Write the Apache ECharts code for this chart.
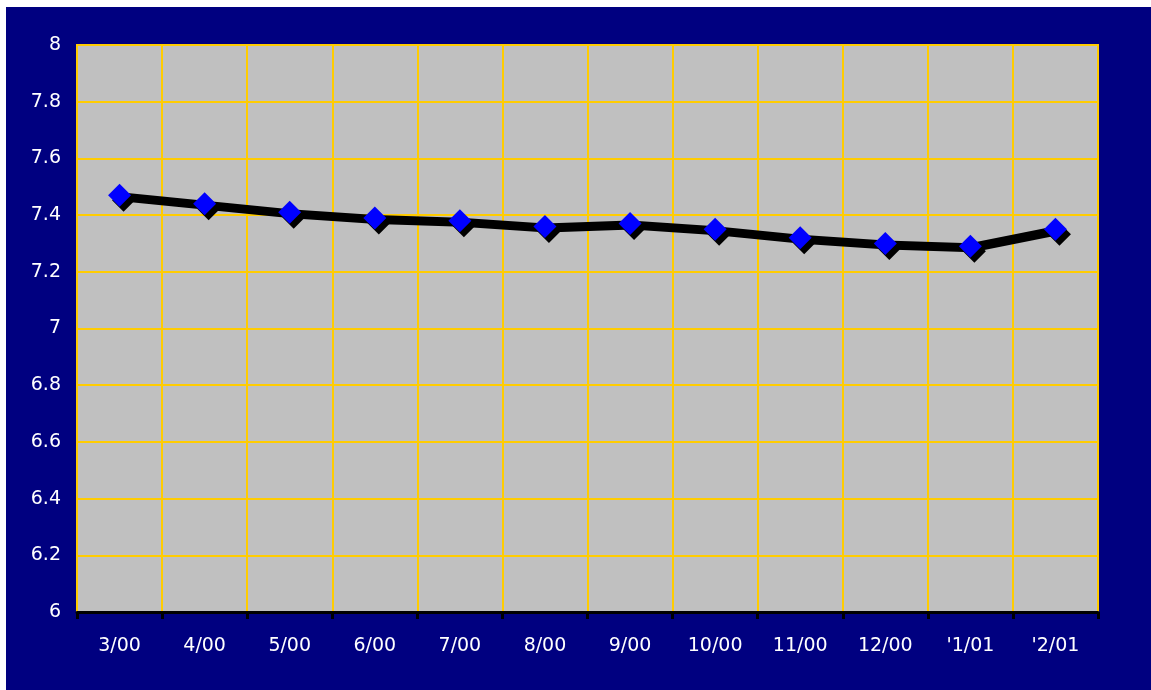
<!DOCTYPE html>
<html>
<head>
<meta charset="utf-8">
<script src="https://cdn.jsdelivr.net/npm/echarts@6/dist/echarts.min.js"></script>
<style>
html,body{margin:0;padding:0;background:#fff;width:1151px;height:690px;overflow:hidden;}
#c{position:absolute;left:6px;top:7px;width:1145px;height:683px;background:#000080;}
</style>
</head>
<body>
<div id="c"></div>
<script>
const categories = ["3/00","4/00","5/00","6/00","7/00","8/00","9/00","10/00","11/00","12/00","'1/01","'2/01"];
const values = [7.47,7.44,7.41,7.39,7.38,7.36,7.37,7.35,7.32,7.30,7.29,7.35];
const yMin = 6, yMax = 8, yStep = 0.2;

const chart = echarts.init(document.getElementById('c'), null, {renderer:'canvas'});
chart.setOption({
  backgroundColor:'#000080',
  animation:false,
  grid:{left:71,top:38,right:53,bottom:78,show:true,backgroundColor:'#C0C0C0',borderColor:'#FFCC00',borderWidth:2},
  xAxis:{
    type:'category', data:categories, boundaryGap:true,
    axisLine:{show:true,lineStyle:{color:'#000',width:3}},
    axisTick:{show:true,length:7,lineStyle:{color:'#000',width:3}},
    axisLabel:{color:'#fff',fontFamily:'DejaVu Sans',fontSize:19,margin:25},
    splitLine:{show:true,lineStyle:{color:'#FFCC00',width:2}}
  },
  yAxis:{
    type:'value', min:yMin, max:yMax, interval:yStep,
    axisLine:{show:false}, axisTick:{show:false},
    axisLabel:{color:'#fff',fontFamily:'DejaVu Sans',fontSize:19,margin:16},
    splitLine:{show:true,lineStyle:{color:'#FFCC00',width:2}}
  },
  series:[{
    type:'line', data:values, symbol:'diamond', symbolSize:23,
    lineStyle:{color:'#000',width:6,shadowColor:'#000',shadowOffsetX:2,shadowOffsetY:3,shadowBlur:0},
    itemStyle:{color:'#0000FF',shadowColor:'#000',shadowOffsetX:4,shadowOffsetY:5,shadowBlur:0},
    z:5
  }]
});
</script>
</body>
</html>
